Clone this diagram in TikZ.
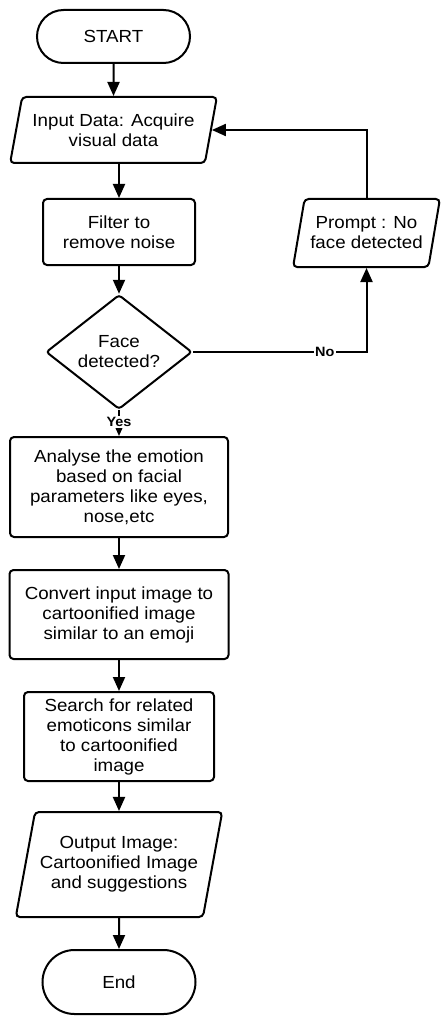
\documentclass[tikz,border=0pt]{standalone}
\usepackage{fontspec}
\setmainfont[FakeStretch=1.07]{Liberation Sans}
\usetikzlibrary{shapes.geometric,shapes.misc,arrows.meta}
\begin{document}
\begin{tikzpicture}[x=1pt,y=-1pt,line width=2pt,
  font=\fontsize{17.5}{20}\selectfont,
  every node/.style={align=center,inner sep=0pt},
  term/.style={draw,rounded rectangle,minimum width=153pt},
  proc/.style={draw,rounded corners=4pt},
  io/.style={draw,trapezium,trapezium left angle=72,trapezium right angle=108,
    trapezium stretches=true,rounded corners=4pt},
  dec/.style={draw,diamond,minimum width=146pt,minimum height=100pt,rounded corners=3pt},
  flow/.style={-{Triangle[length=14pt,width=12pt]}},
  ans/.style={fill=white,inner sep=1pt,font=\bfseries\fontsize{13.5}{15}\selectfont}]
\useasboundingbox (0,0) rectangle (441,1016);
\node[term,minimum height=53pt] (start) at (113.5,36.5) {START};
\node[io,minimum width=207pt,minimum height=66pt] (inp) at (113.5,130) {Input Data: Acquire\\visual data};
\node[proc,minimum width=152pt,minimum height=66pt] (flt) at (119,232) {Filter to\\remove noise};
\node[io,minimum width=147pt,minimum height=68pt] (prm) at (366.5,233) {Prompt : No\\face detected};
\node[dec] (face) at (119,352) {Face\\detected?};
\node[proc,minimum width=218pt,minimum height=100pt] (ana) at (119,487) {Analyse the emotion\\based on facial\\parameters like eyes,\\nose,etc};
\node[proc,minimum width=219pt,minimum height=89pt] (cnv) at (119,614.5) {Convert input image to\\cartoonified image\\similar to an emoji};
\node[proc,minimum width=190pt,minimum height=89pt] (srch) at (119,736.5) {Search for related\\emoticons similar\\to cartoonified\\image};
\node[io,minimum width=207pt,minimum height=105pt] (out) at (119,864.5) {Output Image:\\Cartoonified Image\\and suggestions};
\node[term,minimum height=64pt] (end) at (119,982) {End};
\draw[flow] (start) -- (inp);
\draw[flow] (inp.south -| flt.north) -- (flt);
\draw[flow] (flt) -- (face);
\draw[flow] (face) -- node[ans,pos=0.45] {Yes} (ana);
\draw[flow] (face.east) -| node[ans,pos=0.38] {No} (prm.south);
\draw[flow] (prm.north) |- (inp.east);
\draw[flow] (ana) -- (cnv);
\draw[flow] (cnv) -- (srch);
\draw[flow] (srch) -- (out.north -| srch.south);
\draw[flow] (out.south -| end.north) -- (end);
\end{tikzpicture}
\end{document}
